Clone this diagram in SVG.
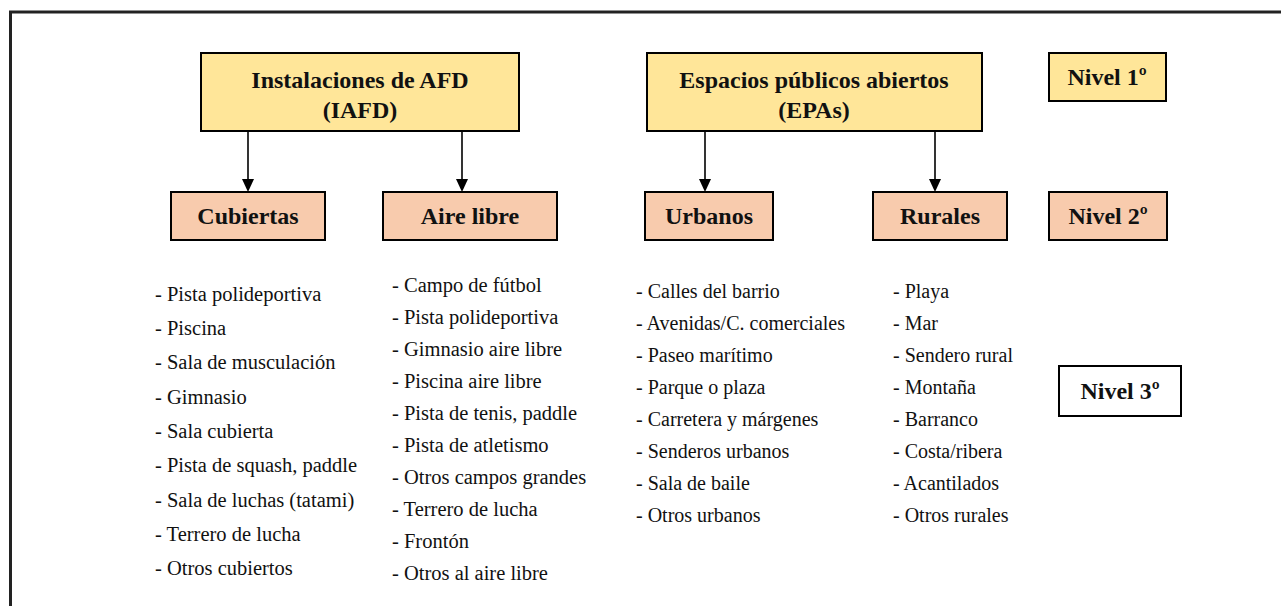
<svg xmlns="http://www.w3.org/2000/svg" width="1281" height="606" viewBox="0 0 1281 606">
<style>
.l1{fill:#FFE699;stroke:#000;stroke-width:2}
.l2{fill:#F8CBAD;stroke:#000;stroke-width:2}
.l3{fill:#fff;stroke:#000;stroke-width:2}
.t{font-family:"Liberation Serif","Times New Roman",serif;font-weight:bold;font-size:24px;fill:#111;text-anchor:middle}
.li{font-family:"Liberation Serif","Times New Roman",serif;font-size:20.5px;fill:#111}
.li2{font-family:"Liberation Serif","Times New Roman",serif;font-size:20px;fill:#111}
.c{stroke:#000;stroke-width:1.6;fill:none}
</style>
<defs>
<marker id="ah" markerUnits="userSpaceOnUse" markerWidth="14" markerHeight="14" viewBox="0 0 14 14" refX="7" refY="13" orient="auto">
<path d="M1,1 L13,1 L7,13 Z" fill="#000"/>
</marker>
</defs>
<rect x="0" y="0" width="1281" height="606" fill="#fff"/>
<path d="M10.5,620 V12 H1300" fill="none" stroke="#222" stroke-width="3"/>

<g id="connectors">
<line class="c" x1="248" y1="131" x2="248" y2="179"/>
<path d="M242,179 L254,179 L248,192 Z" fill="#000"/>
<line class="c" x1="462" y1="131" x2="462" y2="179"/>
<path d="M456,179 L468,179 L462,192 Z" fill="#000"/>
<line class="c" x1="705" y1="131" x2="705" y2="179"/>
<path d="M699,179 L711,179 L705,192 Z" fill="#000"/>
<line class="c" x1="935" y1="131" x2="935" y2="179"/>
<path d="M929,179 L941,179 L935,192 Z" fill="#000"/>
</g>

<g id="iafd">
<rect class="l1" x="201" y="53" width="318" height="78"/>
<text class="t" x="360" y="88">Instalaciones de AFD</text>
<text class="t" x="360" y="118">(IAFD)</text>
</g>
<g id="epas">
<rect class="l1" x="647" y="53" width="335" height="78"/>
<text class="t" x="814" y="88">Espacios públicos abiertos</text>
<text class="t" x="814" y="118">(EPAs)</text>
</g>
<g id="nivel1">
<rect class="l1" x="1049" y="53" width="117" height="48"/>
<text class="t" x="1107" y="85">Nivel 1º</text>
</g>

<g id="cubiertas">
<rect class="l2" x="171" y="192" width="154" height="48"/>
<text class="t" x="248" y="224">Cubiertas</text>
</g>
<g id="airelibre">
<rect class="l2" x="383" y="192" width="174" height="48"/>
<text class="t" x="470" y="224">Aire libre</text>
</g>
<g id="urbanos">
<rect class="l2" x="645" y="192" width="128" height="48"/>
<text class="t" x="709" y="224">Urbanos</text>
</g>
<g id="rurales">
<rect class="l2" x="873" y="192" width="134" height="48"/>
<text class="t" x="940" y="224">Rurales</text>
</g>
<g id="nivel2">
<rect class="l2" x="1049" y="192" width="118" height="48"/>
<text class="t" x="1108" y="224">Nivel 2º</text>
</g>
<g id="nivel3">
<rect class="l3" x="1059" y="366" width="122" height="50"/>
<text class="t" x="1120" y="399">Nivel 3º</text>
</g>

<g id="list-cubiertas" class="li">
<text x="155" y="301">- Pista polideportiva</text>
<text x="155" y="335">- Piscina</text>
<text x="155" y="369">- Sala de musculación</text>
<text x="155" y="404">- Gimnasio</text>
<text x="155" y="438">- Sala cubierta</text>
<text x="155" y="472">- Pista de squash, paddle</text>
<text x="155" y="507">- Sala de luchas (tatami)</text>
<text x="155" y="541">- Terrero de lucha</text>
<text x="155" y="575">- Otros cubiertos</text>
</g>
<g id="list-airelibre" class="li">
<text x="392" y="292">- Campo de fútbol</text>
<text x="392" y="324">- Pista polideportiva</text>
<text x="392" y="356">- Gimnasio aire libre</text>
<text x="392" y="388">- Piscina aire libre</text>
<text x="392" y="420">- Pista de tenis, paddle</text>
<text x="392" y="452">- Pista de atletismo</text>
<text x="392" y="484">- Otros campos grandes</text>
<text x="392" y="516">- Terrero de lucha</text>
<text x="392" y="548">- Frontón</text>
<text x="392" y="580">- Otros al aire libre</text>
</g>
<g id="list-urbanos" class="li2">
<text x="636" y="298">- Calles del barrio</text>
<text x="636" y="330">- Avenidas/C. comerciales</text>
<text x="636" y="362">- Paseo marítimo</text>
<text x="636" y="394">- Parque o plaza</text>
<text x="636" y="426">- Carretera y márgenes</text>
<text x="636" y="458">- Senderos urbanos</text>
<text x="636" y="490">- Sala de baile</text>
<text x="636" y="522">- Otros urbanos</text>
</g>
<g id="list-rurales" class="li2">
<text x="893" y="298">- Playa</text>
<text x="893" y="330">- Mar</text>
<text x="893" y="362">- Sendero rural</text>
<text x="893" y="394">- Montaña</text>
<text x="893" y="426">- Barranco</text>
<text x="893" y="458">- Costa/ribera</text>
<text x="893" y="490">- Acantilados</text>
<text x="893" y="522">- Otros rurales</text>
</g>
</svg>
